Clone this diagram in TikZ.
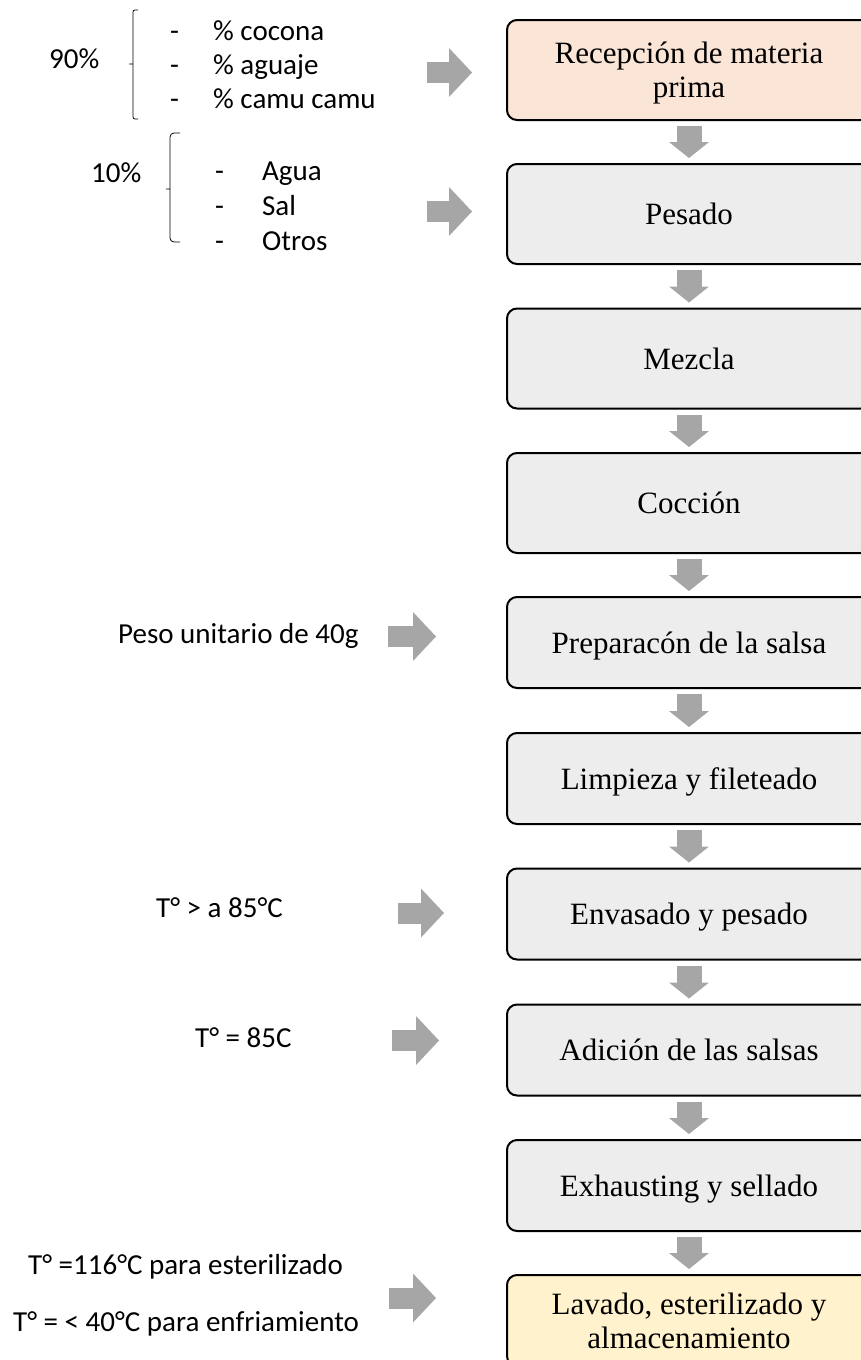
\documentclass[tikz,border=0pt]{standalone}
\usepackage{fontspec}
\setmainfont{Liberation Serif}
\newfontfamily\calibri{Carlito}
\usetikzlibrary{arrows.meta}
\definecolor{peach}{HTML}{FBE5D6}
\definecolor{cream}{HTML}{FFF2CC}
\definecolor{stepgray}{HTML}{EDEDED}
\definecolor{arrowgray}{HTML}{A6A6A6}
\tikzset{
  stepbox/.style={draw,line width=2pt,rounded corners=10pt,fill=stepgray,
    minimum width=364pt,minimum height=91pt,inner sep=0pt,align=center,
    font=\fontsize{31}{34}\selectfont,text height=21pt,text depth=0pt},
  note/.style={inner sep=0pt,anchor=base west,font=\calibri\fontsize{29}{34}\selectfont},
  down/.style={draw=arrowgray,line width=25pt,shorten <=5pt,shorten >=5pt,
    -{Triangle[width=40pt,length=16pt,line width=0pt]}},
  side/.style={draw=arrowgray,line width=21pt,
    -{Triangle[width=49pt,length=23pt,line width=0pt]}},
  brace/.style={line width=0.8pt,rounded corners=2pt}
}

\begin{document}
\begin{tikzpicture}[x=1pt,y=-1pt]
    \useasboundingbox (0,0) rectangle (860,1360);
    \path
    (689,70) node[stepbox,fill=peach,minimum height=100pt,text height=55pt](recep){Recepción de materia\\prima}
    (689,214) node[stepbox,minimum height=100pt](pesado){Pesado}
    (689,358.5) node[stepbox,minimum height=100pt](mezcla){Mezcla}
    (689,503) node[stepbox,minimum height=100pt](coccion){Cocción}
    (689,642.5) node[stepbox](salsa){Preparacón de la salsa}
    (689,778.5) node[stepbox](limpieza){Limpieza y fileteado}
    (689,914) node[stepbox](envasado){Envasado y pesado}
    (689,1050) node[stepbox](adicion){Adición de las salsas}
    (689,1185.5) node[stepbox](sellado){Exhausting y sellado}
    (689,1320.5) node[stepbox,fill=cream,text height=55pt](lavado){Lavado, esterilizado y\\almacenamiento};
    \draw (recep) edge[down] (pesado)
          (pesado) edge[down] (mezcla)
          (mezcla) edge[down] (coccion)
          (coccion) edge[down] (salsa)
          (salsa) edge[down] (limpieza)
          (limpieza) edge[down] (envasado)
          (envasado) edge[down] (adicion)
          (adicion) edge[down] (sellado)
          (sellado) edge[down] (lavado);

    % insumos
    \path
    (49,68) node[note](frutas){90\%}
    (170,40) node[note](cocona){\makebox[43pt][l]{-}\% cocona}
    (170,74) node[note](aguaje){\makebox[43pt][l]{-}\% aguaje}
    (170,108) node[note](camu){\makebox[43pt][l]{-}\% camu camu}
    (91,182) node[note](otros10){10\%}
    (215,180) node[note](agua){\makebox[47pt][l]{-}Agua}
    (215,215) node[note](sal){\makebox[47pt][l]{-}Sal}
    (215,250) node[note](otros){\makebox[47pt][l]{-}Otros}
    (118,643) node[note](peso){Peso unitario de 40g}
    (156,917) node[note](tenvase){T° > a 85°C}
    (195,1047) node[note](tsalsa){T° = 85C}
    (28,1274) node[note](testeril){T° =116°C para esterilizado}
    (13,1331) node[note](tenfria){T° = < 40°C para enfriamiento};
    \draw[brace] (138,10) -- (133,10) -- (133,119) -- (138,119) (133,64) -- (129,64);
    \draw[brace,rounded corners=4pt] (180,133) -- (170,133) -- (170,242) -- (180,242) (170,189) -- (166,189);

    \path (427,72.5) coordinate(in1a) (472,72.5) coordinate(in1b)
          (427,211.5) coordinate(in2a) (472,211.5) coordinate(in2b)
          (388,636.5) coordinate(in3a) (436,636.5) coordinate(in3b)
          (398,913) coordinate(in4a) (444,913) coordinate(in4b)
          (392,1040.5) coordinate(in5a) (439,1040.5) coordinate(in5b)
          (389,1298) coordinate(in6a) (436,1298) coordinate(in6b);
    \draw[side] (in1a) -- (in1b);
    \draw[side] (in2a) -- (in2b);
    \draw[side] (in3a) -- (in3b);
    \draw[side] (in4a) -- (in4b);
    \draw[side] (in5a) -- (in5b);
    \draw[side] (in6a) -- (in6b);
\end{tikzpicture}
\end{document}
